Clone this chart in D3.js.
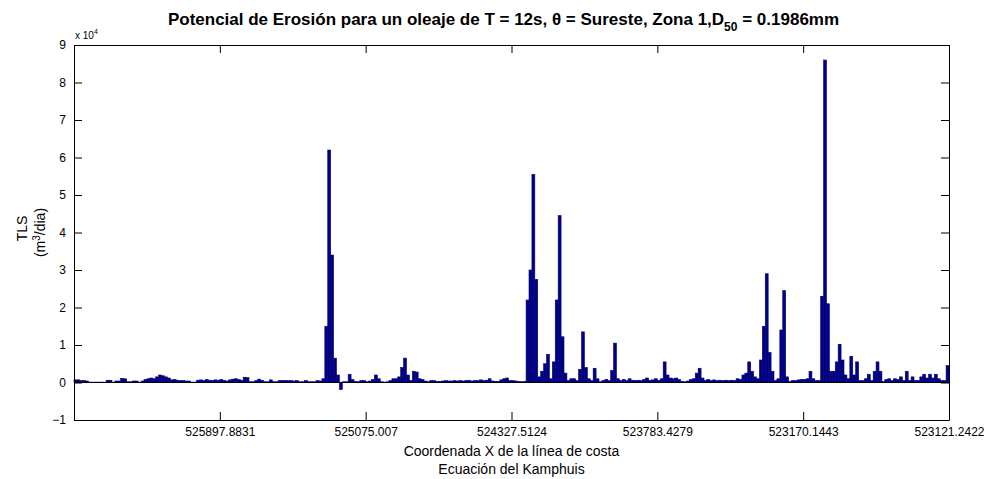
<!DOCTYPE html>
<html>
<head>
<meta charset="utf-8">
<script src="https://cdn.jsdelivr.net/npm/d3@7"></script>
<style>
  html, body { margin: 0; padding: 0; background: #fff; }
  svg { display: block; }
  text { font-family: "Liberation Sans", Arial, Helvetica, sans-serif; fill: #000; }
</style>
</head>
<body>
<svg id="chart" width="987" height="479"></svg>
<script>
// TLS per shoreline cell (units of 1e4 m3/dia), one value per cell along the coast
const tls = [
  0.07, 0.07, 0.05, 0.05, 0.04, 0.01, 0.01, 0.01, 0.01, 0.01,
  0.01, 0.06, 0.06, 0.01, 0.04, 0.04, 0.11, 0.10, 0.02, 0.02,
  0.04, 0.04, 0.01, 0.04, 0.08, 0.10, 0.12, 0.10, 0.15, 0.20,
  0.18, 0.15, 0.12, 0.07, 0.08, 0.06, 0.05, 0.05, 0.04, 0.04,
  0.01, 0.01, 0.06, 0.07, 0.05, 0.08, 0.06, 0.05, 0.07, 0.06,
  0.08, 0.06, 0.04, 0.07, 0.09, 0.10, 0.08, 0.06, 0.14, 0.13,
  0.02, 0.02, 0.05, 0.09, 0.06, 0.02, 0.02, 0.07, 0.02, 0.02,
  0.05, 0.05, 0.05, 0.05, 0.05, 0.04, 0.05, 0.02, 0.02, 0.05,
  0.02, 0.02, 0.02, 0.05, 0.04, 0.10, 1.50, 6.20, 3.40, 0.65,
  0.20, -0.19, 0.02, 0.02, 0.22, 0.08, 0.03, 0.02, 0.05, 0.05,
  0.02, 0.04, 0.08, 0.20, 0.10, 0.02, 0.01, 0.02, 0.05, 0.10,
  0.10, 0.15, 0.40, 0.65, 0.20, 0.05, 0.30, 0.28, 0.10, 0.08,
  0.04, 0.02, 0.05, 0.05, 0.03, 0.03, 0.04, 0.05, 0.04, 0.04,
  0.05, 0.04, 0.05, 0.04, 0.05, 0.06, 0.04, 0.05, 0.05, 0.07,
  0.05, 0.06, 0.10, 0.04, 0.03, 0.03, 0.07, 0.10, 0.12, 0.05,
  0.05, 0.04, 0.03, 0.02, 0.03, 2.20, 3.00, 5.55, 2.75, 0.15,
  0.30, 0.50, 0.75, 0.10, 0.55, 2.20, 4.45, 1.22, 0.25, 0.05,
  0.10, 0.10, 0.05, 0.35, 1.35, 0.40, 0.10, 0.05, 0.38, 0.10,
  0.02, 0.05, 0.08, 0.05, 0.32, 1.05, 0.10, 0.05, 0.08, 0.05,
  0.10, 0.06, 0.05, 0.06, 0.05, 0.08, 0.12, 0.06, 0.07, 0.10,
  0.06, 0.10, 0.55, 0.20, 0.12, 0.10, 0.12, 0.08, 0.03, 0.02,
  0.04, 0.08, 0.10, 0.25, 0.38, 0.12, 0.06, 0.08, 0.05, 0.07,
  0.05, 0.06, 0.05, 0.06, 0.05, 0.06, 0.05, 0.10, 0.08, 0.20,
  0.25, 0.55, 0.30, 0.15, 0.10, 0.60, 1.50, 2.90, 0.80, 0.30,
  0.05, 0.10, 1.40, 2.45, 0.15, 0.03, 0.05, 0.05, 0.07, 0.08,
  0.08, 0.10, 0.30, 0.10, 0.05, 0.05, 2.30, 8.60, 2.10, 0.30,
  0.30, 0.55, 1.02, 0.60, 0.20, 0.10, 0.70, 0.20, 0.55, 0.05,
  0.05, 0.10, 0.22, 0.05, 0.30, 0.55, 0.30, 0.03, 0.08, 0.10,
  0.05, 0.10, 0.08, 0.15, 0.05, 0.30, 0.05, 0.15, 0.05, 0.05,
  0.15, 0.22, 0.12, 0.22, 0.12, 0.22, 0.10, 0.05, 0.05, 0.45
];

// x ticks every 50 cells, labelled with the shoreline X coordinate
const xTickCells = [0, 50, 100, 150, 200, 250, 300];
const xTickLabels = ["", "525897.8831", "525075.007", "524327.5124", "523783.4279", "523170.1443", "523121.2422"];
const yTicks = [-1, 0, 1, 2, 3, 4, 5, 6, 7, 8, 9];

const titleText = "Potencial de Erosión para un oleaje de T = 12s, θ = Sureste, Zona 1,D";
const xLabel1 = "Coordenada X de la línea de costa";
const xLabel2 = "Ecuación del Kamphuis";

const margin = { left: 74, right: 38, top: 45, bottom: 59 };
const W = 987, H = 479;
const svg = d3.select("#chart");

const x = d3.scaleLinear().domain([0, tls.length]).range([margin.left, W - margin.right]);
const y = d3.scaleLinear().domain([-1, 9]).range([H - margin.bottom, margin.top]);

const barColor = "#000080";

// bars
svg.append("g")
  .selectAll("rect")
  .data(tls)
  .join("rect")
  .attr("x", (d, i) => x(i))
  .attr("width", (d, i) => x(i + 1) - x(i))
  .attr("y", d => Math.min(y(d), y(0)))
  .attr("height", d => Math.abs(y(d) - y(0)))
  .attr("fill", barColor)
  .attr("stroke", barColor)
  .attr("stroke-width", 0.6);

// baseline
svg.append("line")
  .attr("x1", x(0)).attr("x2", x(tls.length))
  .attr("y1", y(0)).attr("y2", y(0))
  .attr("stroke", "#000").attr("stroke-width", 1);

const tickLen = 8;
const fmtX = (d, i) => xTickLabels[i];

// bottom axis (ticks pointing inward)
const gxB = svg.append("g")
  .attr("transform", `translate(0,${y(-1)})`)
  .call(d3.axisBottom(x).tickValues(xTickCells).tickFormat(fmtX).tickSizeInner(-tickLen).tickSizeOuter(0).tickPadding(7));
// top axis
const gxT = svg.append("g")
  .attr("transform", `translate(0,${y(9)})`)
  .call(d3.axisTop(x).tickValues(xTickCells).tickFormat("").tickSizeInner(-tickLen).tickSizeOuter(0));
// left axis
const gyL = svg.append("g")
  .attr("transform", `translate(${x(0)},0)`)
  .call(d3.axisLeft(y).tickValues(yTicks).tickFormat(d3.format("d")).tickSizeInner(-tickLen).tickSizeOuter(0).tickPadding(8));
// right axis
const gyR = svg.append("g")
  .attr("transform", `translate(${x(tls.length)},0)`)
  .call(d3.axisRight(y).tickValues(yTicks).tickFormat("").tickSizeInner(-tickLen).tickSizeOuter(0));

[gxB, gxT, gyL, gyR].forEach(g => {
  g.selectAll("path.domain").attr("stroke", "#000").attr("stroke-width", 1);
  g.selectAll(".tick line").attr("stroke", "#000").attr("stroke-width", 1);
  g.selectAll(".tick text")
    .style("font-family", '"Liberation Sans", Arial, sans-serif')
    .style("font-size", "12px").attr("fill", "#000");
});

// exponent marker above the y axis
const expo = svg.append("text")
  .attr("x", x(0) + 1).attr("y", y(9) - 6)
  .style("font-size", "10px");
expo.append("tspan").text("x 10");
expo.append("tspan").attr("dy", -5).style("font-size", "7px").text("4");

// title with subscript
const title = svg.append("text")
  .attr("x", (x(0) + x(tls.length)) / 2 - 8).attr("y", 25)
  .attr("text-anchor", "middle")
  .style("font-size", "17px").style("font-weight", "bold");
title.append("tspan").text(titleText);
title.append("tspan").attr("dy", 6).style("font-size", "12px").text("50");
title.append("tspan").attr("dy", -6).text(" = 0.1986mm");

// x-axis label (two lines)
const cx = (x(0) + x(tls.length)) / 2;
svg.append("text").attr("x", cx).attr("y", 456).attr("text-anchor", "middle")
  .style("font-size", "14px").text(xLabel1);
svg.append("text").attr("x", cx).attr("y", 474).attr("text-anchor", "middle")
  .style("font-size", "14px").text(xLabel2);

// y-axis label (two lines, rotated)
const cy = (y(-1) + y(9)) / 2;
svg.append("text")
  .attr("transform", `translate(27,${cy - 4}) rotate(-90)`)
  .attr("text-anchor", "middle").style("font-size", "14px").text("TLS");
const yl2 = svg.append("text")
  .attr("transform", `translate(45,${cy}) rotate(-90)`)
  .attr("text-anchor", "middle").style("font-size", "14px");
yl2.append("tspan").text("(m");
yl2.append("tspan").attr("dy", -5).style("font-size", "10px").text("3");
yl2.append("tspan").attr("dy", 5).text("/dia)");
</script>
</body>
</html>
